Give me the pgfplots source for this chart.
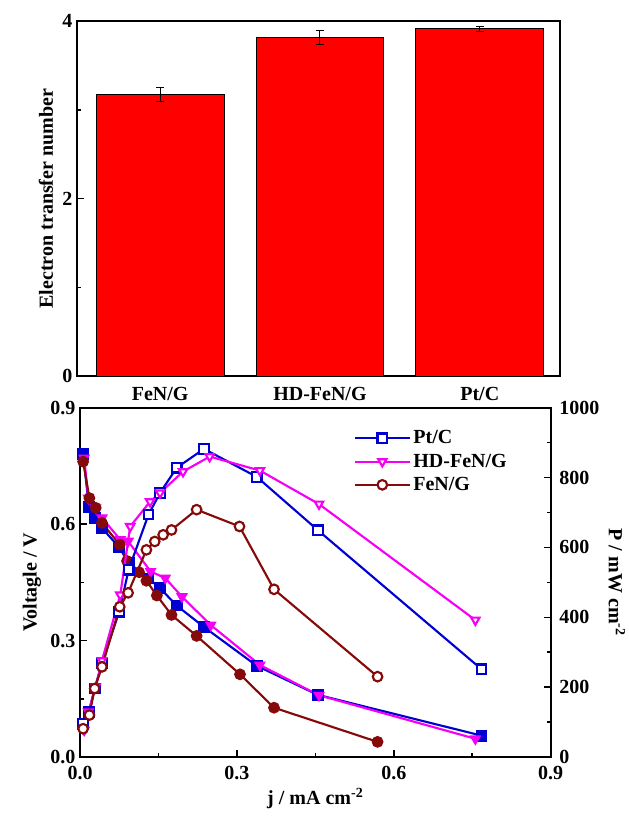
\documentclass[border=0pt]{standalone}
\usepackage{fontspec}
\setmainfont{Liberation Serif}
\usepackage{pgfplots}
\pgfplotsset{compat=1.18}

\definecolor{ptblue}{RGB}{0,0,210}
\definecolor{hdmag}{RGB}{245,0,245}
\definecolor{fered}{RGB}{135,10,10}
\definecolor{barred}{RGB}{255,0,0}

\pgfplotsset{
  base/.style={
    scale only axis,
    axis line style={line width=1.4pt},
    tick align=inside,
    major tick length=5pt, minor tick length=3pt,
    every tick/.style={black, line width=1.1pt},
    tick label style={font=\fontsize{15}{17}\selectfont\bfseries},
    label style={font=\fontsize{15}{17}\selectfont\bfseries},
    /pgf/number format/assume math mode=true,
    /pgf/number format/1000 sep={},
  },
  vline/.style={line width=1.6pt, mark size=3.6pt, mark options={solid}},
}

\begin{document}
\begin{tikzpicture}
\path[use as bounding box] (-57.75pt,-330pt) rectangle (413.25pt,282pt);

% top: electron transfer number
\begin{axis}[base,
  at={(0pt,0pt)}, anchor=south west,
  width=362pt, height=266pt,
  xmin=-0.52, xmax=2.5, ymin=0, ymax=4,
  xtick={0,1,2}, xticklabels={FeN/G,HD-FeN/G,Pt/C},
  xtick style={draw=none},
  ytick={0,2,4}, minor ytick={1,3}, ytick pos=left,
  ylabel={Electron transfer number},
  ybar, bar width=0.8,
]
\addplot[fill=barred, draw=black, line width=0.6pt,
  error bars/.cd, y dir=both, y explicit,
  error bar style={black, line width=0.8pt},
  error mark options={black, rotate=90, mark size=3pt, line width=0.8pt}]
  coordinates {(0,3.175) +- (0,0.075) (1,3.82) +- (0,0.08) (2,3.915) +- (0,0.03)};
\end{axis}

% bottom: polarization (left axis)
\begin{axis}[base,
  at={(2.25pt,-285.75pt)}, anchor=south west,
  width=353pt, height=262pt,
  xmin=0, xmax=0.9, ymin=0, ymax=0.9,
  xtick={0,0.3,0.6,0.9}, ytick={0,0.3,0.6,0.9},
  minor x tick num=1, minor y tick num=1,
  xtick pos=bottom, ytick pos=left,
  xticklabel style={yshift=-3pt, /pgf/number format/.cd,fixed,fixed zerofill,precision=1},
  yticklabel style={/pgf/number format/.cd,fixed,fixed zerofill,precision=1},
  xlabel={j / mA cm\textsuperscript{-2}},
  ylabel={Voltagle / V},
]
\addplot[vline, color=ptblue, mark=square*] coordinates {
  (0.006,0.780) (0.017,0.645) (0.028,0.615) (0.042,0.590) (0.075,0.540)
  (0.093,0.500) (0.131,0.460) (0.153,0.435) (0.185,0.390) (0.237,0.335)
  (0.338,0.235) (0.455,0.160) (0.768,0.055)};
\addplot[vline, color=hdmag, mark=triangle*, mark options={rotate=180}] coordinates {
  (0.008,0.770) (0.016,0.667) (0.030,0.642) (0.042,0.616) (0.077,0.560)
  (0.092,0.556) (0.135,0.478) (0.163,0.461) (0.195,0.413) (0.250,0.340)
  (0.344,0.237) (0.457,0.159) (0.756,0.047)};
\addplot[vline, color=fered, mark=*] coordinates {
  (0.006,0.761) (0.018,0.667) (0.030,0.642) (0.042,0.603) (0.076,0.547)
  (0.090,0.505) (0.113,0.476) (0.127,0.454) (0.147,0.416) (0.175,0.366)
  (0.223,0.312) (0.306,0.213) (0.371,0.127) (0.569,0.039)};
\end{axis}

% bottom: power density (right axis)
\begin{axis}[base,
  at={(2.25pt,-285.75pt)}, anchor=south west,
  width=353pt, height=262pt,
  xmin=0, xmax=0.9, ymin=0, ymax=1000,
  axis x line=none, axis y line*=right,
  ytick={0,200,...,1000}, minor y tick num=1,
  yticklabel style={xshift=3pt},
  ylabel={P / mW cm\textsuperscript{-2}},
  ylabel style={rotate=180},
  legend style={at={(rel axis cs:0.573,0.95)}, anchor=north west,
    draw=none, fill=none, font=\fontsize{15}{17}\selectfont\bfseries,
    row sep=2pt},
  legend cell align=left,
  legend image code/.code={\draw[mark repeat=2,mark phase=2]
    plot coordinates {(0cm,0cm) (0.72cm,0cm) (1.44cm,0cm)};},
]
\addplot[vline, color=ptblue, mark=square*, mark options={fill=white}] coordinates {
  (0.006,95) (0.017,128) (0.028,196) (0.042,268) (0.075,416)
  (0.093,536) (0.131,694) (0.153,756) (0.185,828) (0.237,882)
  (0.338,802) (0.455,649) (0.768,251)};
\addplot[vline, color=hdmag, mark=triangle*, mark options={rotate=180, fill=white}] coordinates {
  (0.008,77) (0.016,129) (0.030,201) (0.042,276) (0.077,464)
  (0.096,660) (0.134,731) (0.153,756) (0.197,817) (0.248,860)
  (0.344,820) (0.457,724) (0.756,392)};
\addplot[vline, color=fered, mark=*, mark options={fill=white}] coordinates {
  (0.006,81) (0.018,120) (0.028,196) (0.042,258) (0.076,430)
  (0.092,470) (0.127,593) (0.143,617) (0.159,636) (0.175,650)
  (0.223,708) (0.305,660) (0.371,480) (0.569,230)};
\legend{Pt/C, HD-FeN/G, FeN/G}
\end{axis}
\end{tikzpicture}
\end{document}
